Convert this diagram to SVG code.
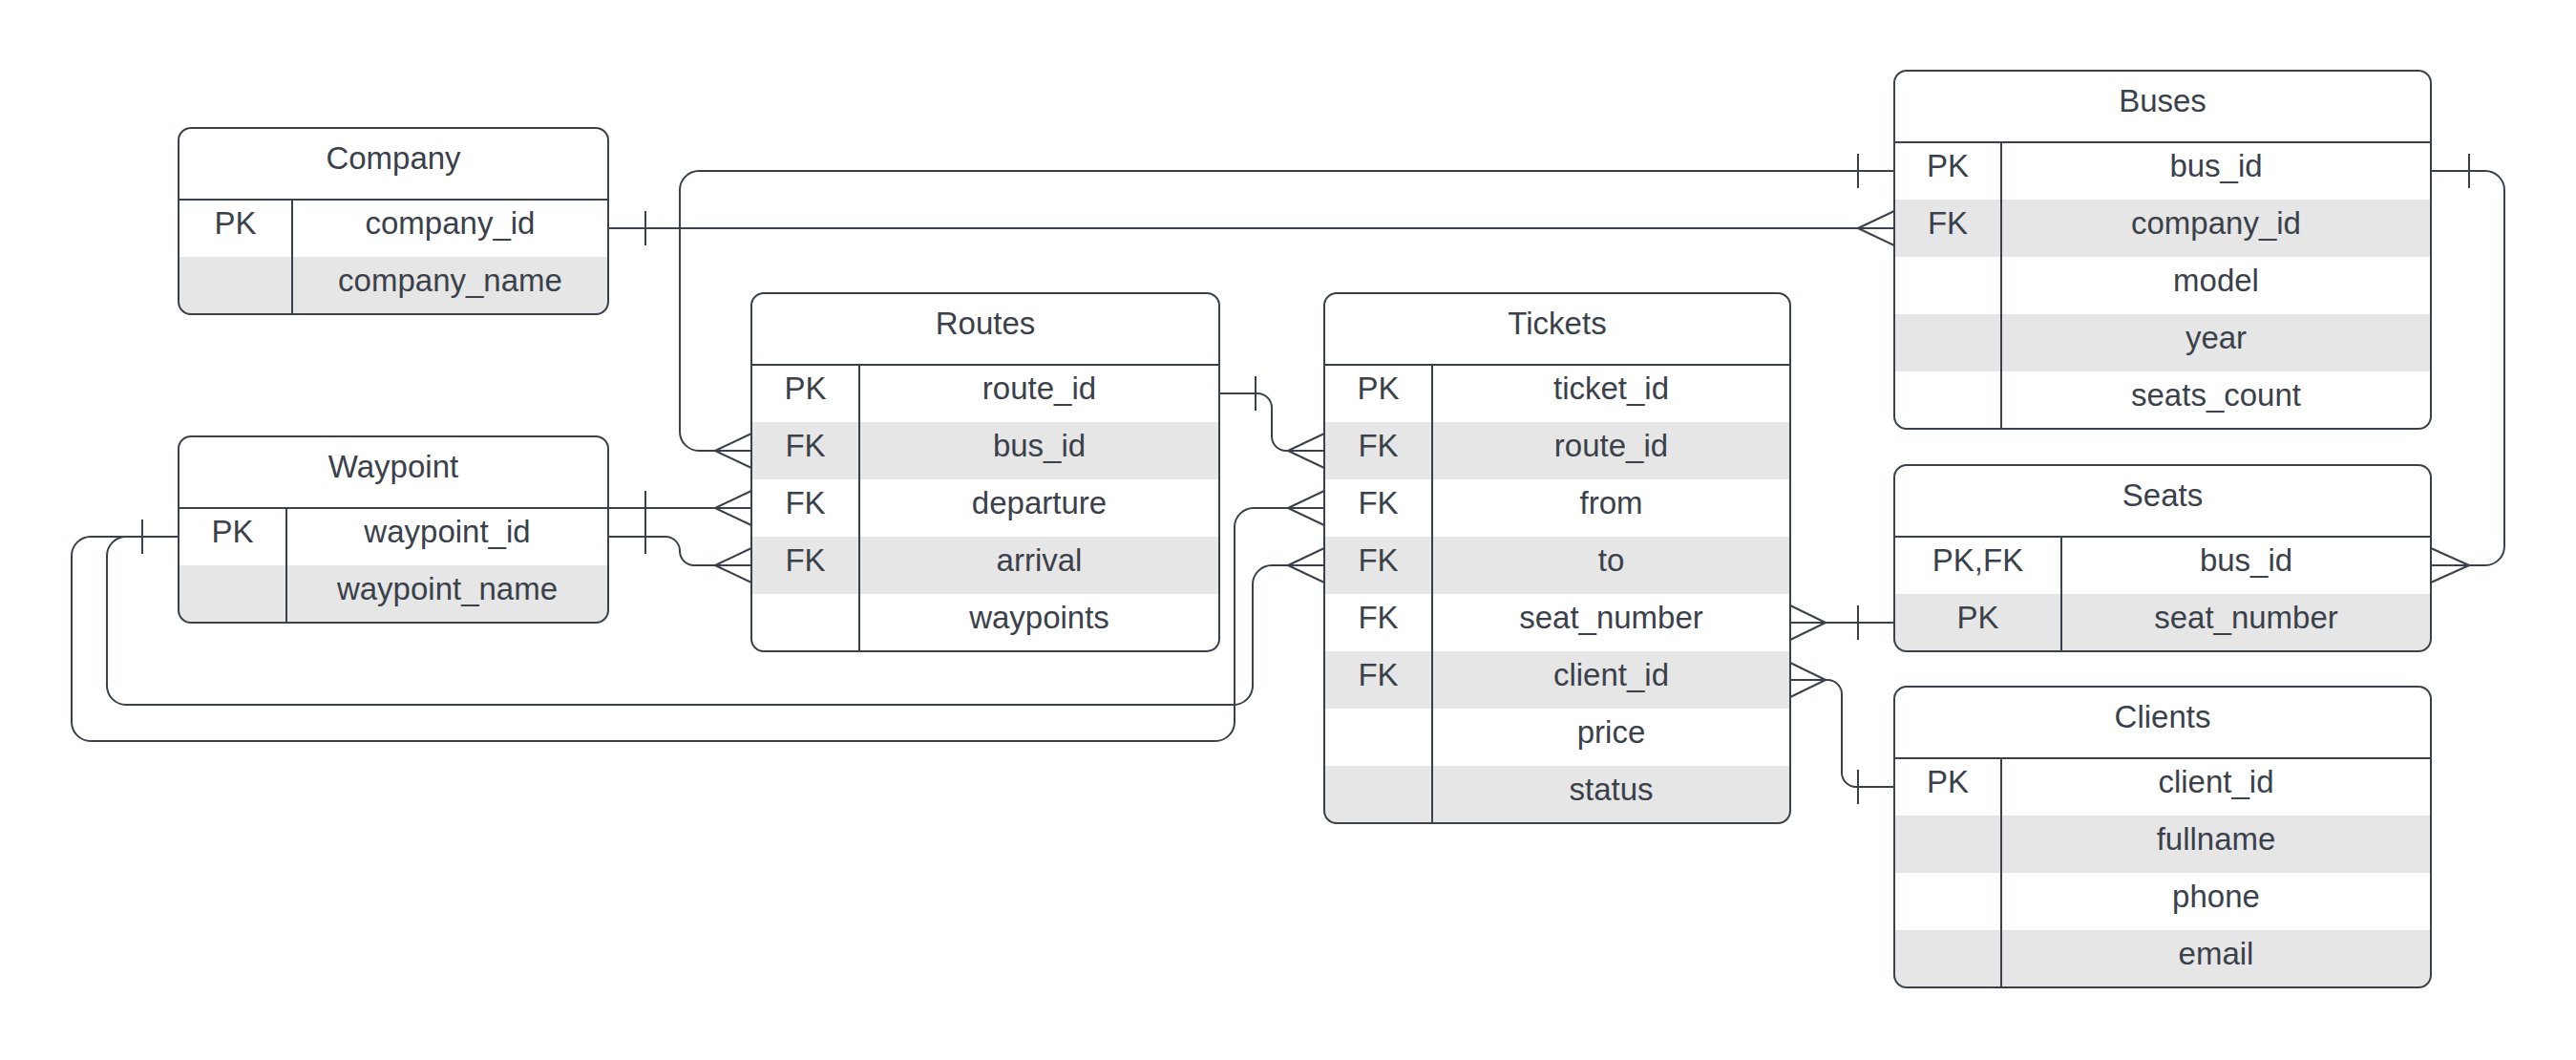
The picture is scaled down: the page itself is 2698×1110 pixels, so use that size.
<svg xmlns="http://www.w3.org/2000/svg" width="2698" height="1110" viewBox="0 0 2698 1110">
<style>
.bg{fill:#ffffff}
.sh{fill:#e6e6e6}
.ol{fill:none;stroke:#3a414a;stroke-width:2}
.ln{fill:none;stroke:#3a414a;stroke-width:2}
.cn{fill:none;stroke:#3a414a;stroke-width:2;stroke-linejoin:round}
text{font-family:"Liberation Sans",Arial,sans-serif;font-size:33px;fill:#3a414a;text-anchor:middle}
</style>
<defs>
<clipPath id="cCompany"><rect x="187" y="134" width="450" height="195" rx="13"/></clipPath>
<clipPath id="cWaypoint"><rect x="187" y="457" width="450" height="195" rx="13"/></clipPath>
<clipPath id="cRoutes"><rect x="787" y="307" width="490" height="375" rx="13"/></clipPath>
<clipPath id="cTickets"><rect x="1387" y="307" width="488" height="555" rx="13"/></clipPath>
<clipPath id="cBuses"><rect x="1984" y="74" width="562" height="375" rx="13"/></clipPath>
<clipPath id="cSeats"><rect x="1984" y="487" width="562" height="195" rx="13"/></clipPath>
<clipPath id="cClients"><rect x="1984" y="719" width="562" height="315" rx="13"/></clipPath>
</defs>
<rect x="0" y="0" width="2698" height="1110" fill="#ffffff"/>

<g id="company">
<rect class="bg" x="187" y="134" width="450" height="195" rx="13"/>
<g clip-path="url(#cCompany)"><rect class="sh" x="187" y="269" width="450" height="60"/></g>
<rect class="ol" x="187" y="134" width="450" height="195" rx="13"/>
<line class="ln" x1="187" y1="209" x2="637" y2="209"/>
<line class="ln" x1="306" y1="209" x2="306" y2="329"/>
<text x="412" y="177">Company</text>
<text x="246.5" y="245">PK</text><text x="471.5" y="245">company_id</text>
<text x="471.5" y="305">company_name</text>
</g>

<g id="waypoint">
<rect class="bg" x="187" y="457" width="450" height="195" rx="13"/>
<g clip-path="url(#cWaypoint)"><rect class="sh" x="187" y="592" width="450" height="60"/></g>
<rect class="ol" x="187" y="457" width="450" height="195" rx="13"/>
<line class="ln" x1="187" y1="532" x2="637" y2="532"/>
<line class="ln" x1="300" y1="532" x2="300" y2="652"/>
<text x="412" y="500">Waypoint</text>
<text x="243.5" y="568">PK</text><text x="468.5" y="568">waypoint_id</text>
<text x="468.5" y="628">waypoint_name</text>
</g>

<g id="routes">
<rect class="bg" x="787" y="307" width="490" height="375" rx="13"/>
<g clip-path="url(#cRoutes)"><rect class="sh" x="787" y="442" width="490" height="60"/><rect class="sh" x="787" y="562" width="490" height="60"/></g>
<rect class="ol" x="787" y="307" width="490" height="375" rx="13"/>
<line class="ln" x1="787" y1="382" x2="1277" y2="382"/>
<line class="ln" x1="900" y1="382" x2="900" y2="682"/>
<text x="1032" y="350">Routes</text>
<text x="843.5" y="418">PK</text><text x="1088.5" y="418">route_id</text>
<text x="843.5" y="478">FK</text><text x="1088.5" y="478">bus_id</text>
<text x="843.5" y="538">FK</text><text x="1088.5" y="538">departure</text>
<text x="843.5" y="598">FK</text><text x="1088.5" y="598">arrival</text>
<text x="1088.5" y="658">waypoints</text>
</g>

<g id="tickets">
<rect class="bg" x="1387" y="307" width="488" height="555" rx="13"/>
<g clip-path="url(#cTickets)"><rect class="sh" x="1387" y="442" width="488" height="60"/><rect class="sh" x="1387" y="562" width="488" height="60"/><rect class="sh" x="1387" y="682" width="488" height="60"/><rect class="sh" x="1387" y="802" width="488" height="60"/></g>
<rect class="ol" x="1387" y="307" width="488" height="555" rx="13"/>
<line class="ln" x1="1387" y1="382" x2="1875" y2="382"/>
<line class="ln" x1="1500" y1="382" x2="1500" y2="862"/>
<text x="1631" y="350">Tickets</text>
<text x="1443.5" y="418">PK</text><text x="1687.5" y="418">ticket_id</text>
<text x="1443.5" y="478">FK</text><text x="1687.5" y="478">route_id</text>
<text x="1443.5" y="538">FK</text><text x="1687.5" y="538">from</text>
<text x="1443.5" y="598">FK</text><text x="1687.5" y="598">to</text>
<text x="1443.5" y="658">FK</text><text x="1687.5" y="658">seat_number</text>
<text x="1443.5" y="718">FK</text><text x="1687.5" y="718">client_id</text>
<text x="1687.5" y="778">price</text>
<text x="1687.5" y="838">status</text>
</g>

<g id="buses">
<rect class="bg" x="1984" y="74" width="562" height="375" rx="13"/>
<g clip-path="url(#cBuses)"><rect class="sh" x="1984" y="209" width="562" height="60"/><rect class="sh" x="1984" y="329" width="562" height="60"/></g>
<rect class="ol" x="1984" y="74" width="562" height="375" rx="13"/>
<line class="ln" x1="1984" y1="149" x2="2546" y2="149"/>
<line class="ln" x1="2096" y1="149" x2="2096" y2="449"/>
<text x="2265" y="117">Buses</text>
<text x="2040" y="185">PK</text><text x="2321" y="185">bus_id</text>
<text x="2040" y="245">FK</text><text x="2321" y="245">company_id</text>
<text x="2321" y="305">model</text>
<text x="2321" y="365">year</text>
<text x="2321" y="425">seats_count</text>
</g>

<g id="seats">
<rect class="bg" x="1984" y="487" width="562" height="195" rx="13"/>
<g clip-path="url(#cSeats)"><rect class="sh" x="1984" y="622" width="562" height="60"/></g>
<rect class="ol" x="1984" y="487" width="562" height="195" rx="13"/>
<line class="ln" x1="1984" y1="562" x2="2546" y2="562"/>
<line class="ln" x1="2159" y1="562" x2="2159" y2="682"/>
<text x="2265" y="530">Seats</text>
<text x="2071.5" y="598">PK,FK</text><text x="2352.5" y="598">bus_id</text>
<text x="2071.5" y="658">PK</text><text x="2352.5" y="658">seat_number</text>
</g>

<g id="clients">
<rect class="bg" x="1984" y="719" width="562" height="315" rx="13"/>
<g clip-path="url(#cClients)"><rect class="sh" x="1984" y="854" width="562" height="60"/><rect class="sh" x="1984" y="974" width="562" height="60"/></g>
<rect class="ol" x="1984" y="719" width="562" height="315" rx="13"/>
<line class="ln" x1="1984" y1="794" x2="2546" y2="794"/>
<line class="ln" x1="2096" y1="794" x2="2096" y2="1034"/>
<text x="2265" y="762">Clients</text>
<text x="2040" y="830">PK</text><text x="2321" y="830">client_id</text>
<text x="2321" y="890">fullname</text>
<text x="2321" y="950">phone</text>
<text x="2321" y="1010">email</text>
</g>

<g id="connectors">
<!-- Buses.bus_id -> Routes.bus_id -->
<path class="cn" d="M1984,179 H732 A20,20 0 0 0 712,199 V452 A20,20 0 0 0 732,472 H787"/>
<path class="cn" d="M1946,161 V197"/>
<path class="cn" d="M787,454 L749,472 L787,490"/>
<!-- Company.company_id -> Buses.company_id -->
<path class="cn" d="M637,239 H1984"/>
<path class="cn" d="M676,221 V257"/>
<path class="cn" d="M1984,221 L1946,239 L1984,257"/>
<!-- Waypoint -> Routes.departure -->
<path class="cn" d="M637,532 H787"/>
<path class="cn" d="M676,514 V550"/>
<path class="cn" d="M787,514 L749,532 L787,550"/>
<!-- Waypoint -> Routes.arrival -->
<path class="cn" d="M637,562 H697 A15,15 0 0 1 712,577 A15,15 0 0 0 727,592 H787"/>
<path class="cn" d="M676,544 V580"/>
<path class="cn" d="M787,574 L749,592 L787,610"/>
<!-- Routes.route_id -> Tickets.route_id -->
<path class="cn" d="M1277,412 H1317 A15,15 0 0 1 1332,427 V457 A15,15 0 0 0 1347,472 H1387"/>
<path class="cn" d="M1315,394 V430"/>
<path class="cn" d="M1387,454 L1349,472 L1387,490"/>
<!-- Waypoint -> Tickets.from -->
<path class="cn" d="M187,562 H95 A20,20 0 0 0 75,582 V756 A20,20 0 0 0 95,776 H1273 A20,20 0 0 0 1293,756 V552 A20,20 0 0 1 1313,532 H1387"/>
<path class="cn" d="M1387,514 L1349,532 L1387,550"/>
<!-- Waypoint -> Tickets.to -->
<path class="cn" d="M187,562 H132 A20,20 0 0 0 112,582 V718 A20,20 0 0 0 132,738 H1292 A20,20 0 0 0 1312,718 V612 A20,20 0 0 1 1332,592 H1387"/>
<path class="cn" d="M1387,574 L1349,592 L1387,610"/>
<path class="cn" d="M149,544 V580"/>
<!-- Tickets.seat_number -> Seats.seat_number -->
<path class="cn" d="M1875,652 H1984"/>
<path class="cn" d="M1875,634 L1912,652 L1875,670"/>
<path class="cn" d="M1946,634 V670"/>
<!-- Tickets.client_id -> Clients.client_id -->
<path class="cn" d="M1875,712 H1914 A15,15 0 0 1 1929,727 V809 A15,15 0 0 0 1944,824 H1984"/>
<path class="cn" d="M1875,694 L1912,712 L1875,730"/>
<path class="cn" d="M1946,806 V842"/>
<!-- Buses.bus_id -> Seats.bus_id -->
<path class="cn" d="M2546,179 H2603 A20,20 0 0 1 2623,199 V572 A20,20 0 0 1 2603,592 H2546"/>
<path class="cn" d="M2586,161 V197"/>
<path class="cn" d="M2546,574 L2586,592 L2546,610"/>
</g>
</svg>
